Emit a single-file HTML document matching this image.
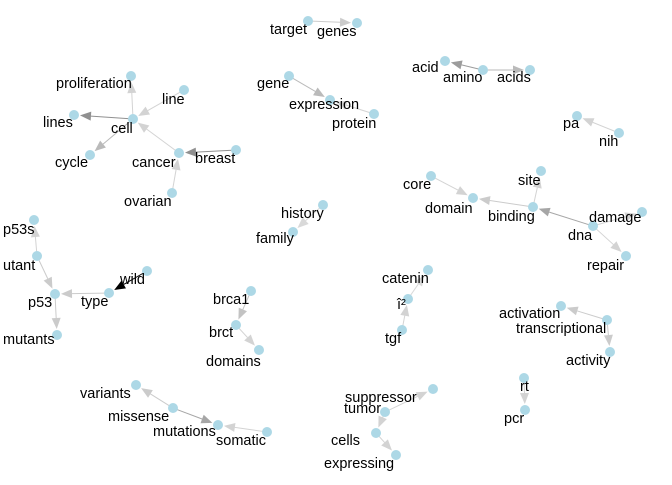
<!DOCTYPE html>
<html><head><meta charset="utf-8"><style>
body{margin:0;background:#fff}
svg text{font-family:"Liberation Sans",Arial,sans-serif;font-size:14.5px;fill:#000}
</style></head><body>
<svg id="g" width="672" height="480"></svg>
<script>
const nodeNames=["target","genes","acid","amino","acids","gene","expression","protein","pa","nih","proliferation","line","lines","cell","cycle","cancer","breast","ovarian","history","family","core","domain","binding","site","dna","damage","repair","p53s","mutant","p53","mutants","type","wild","brca1","brct","domains","catenin","β","tgf","activation","transcriptional","activity","rt","pcr","variants","missense","mutations","somatic","suppressor","tumor","cells","expressing"];
const labelText={"mutant":"utant","β":"î²"};
const nodeX=[308,357,445,483,530,289,330,374,577,619,131,184,74,133,90,179,236,172,323,293,431,473,533,541,593,642,626,34,37,55,57,109,147,251,236,259,428,408,402,561,607,610,524,525,136,173,218,267,433,385,376,396];
const nodeY=[21,23,61,70,70,76,100,114,116,133,76,90,115,119,155,153,150,193,205,232,176,198,207,171,226,212,256,220,256,294,335,293,271,291,325,350,270,299,330,306,320,352,378,410,385,408,425,432,389,412,433,455];
const labelX=[270,317,412,443,497,257,289,332,563,599,56,162,43,111,55,132,195,124,281,256,403,425,488,518,568,589,587,3,3,28,3,81,120,213,209,206,382,397,385,499,516,566,520,504,80,108,153,216,345,344,331,324];
const labelY=[34,36,72,82,82,88,109,128,128,146,88,104,127,133,167,167,163,206,218,243,189,213,221,185,240,222,270,234,270,307,344,306,284,304,337,366,283,309,343,318,333,365,391,423,398,421,436,445,402,413,445,468];
const edgeFrom=["target","amino","amino","gene","protein","nih","cell","line","cell","cell","cancer","breast","ovarian","history","core","binding","binding","dna","dna","dna","mutant","mutant","p53","type","wild","brca1","brct","tgf","β","transcriptional","transcriptional","rt","missense","missense","somatic","tumor","tumor","cells"];
const edgeTo=["genes","acid","acids","expression","expression","pa","proliferation","cell","lines","cycle","cell","cancer","cancer","family","domain","domain","site","binding","damage","repair","p53s","p53","mutants","p53","type","brct","domains","β","catenin","activation","activity","pcr","variants","mutations","mutations","suppressor","cells","expressing"];
const edgeWeight=[0.2,0.45,0.3,0.3,0.15,0.15,0.15,0.15,0.5,0.3,0.15,0.5,0.15,0.1,0.15,0.2,0.15,0.4,0.15,0.15,0.15,0.2,0.2,0.2,1,0.25,0.15,0.15,0.1,0.2,0.2,0.15,0.2,0.4,0.15,0.15,0.15,0.15];
const NS="http://www.w3.org/2000/svg",svg=document.getElementById('g');
const idx=n=>nodeNames.indexOf(n);
const px=i=>nodeX[i],py=i=>nodeY[i];
function mk(t,a){const e=document.createElementNS(NS,t);for(const k in a)e.setAttribute(k,a[k]);svg.appendChild(e);return e;}
edgeFrom.forEach((f,k)=>{
 const a=idx(f),b=idx(edgeTo[k]);
 const x1=px(a),y1=py(a),x2=px(b),y2=py(b);
 const dx=x2-x1,dy=y2-y1,L=Math.hypot(dx,dy),ux=dx/L,uy=dy/L;
 const ex=x2-ux*6,ey=y2-uy*6,bx=ex-ux*11,by=ey-uy*11;
 const w=edgeWeight[k],g=Math.round(170-170*w),col=`rgb(${g},${g},${g})`,op=0.3+0.7*w;
 const l=mk('line',{x1:x1+ux*4,y1:y1+uy*4,x2:bx,y2:by,stroke:col,'stroke-opacity':op,'stroke-width':1});
 
 
 const p=mk('polygon',{points:`${ex},${ey} ${bx-uy*4.5},${by+ux*4.5} ${bx+uy*4.5},${by-ux*4.5}`,fill:col,'fill-opacity':op});
 
 
});
nodeNames.forEach((n,i)=>{
 const c=mk('circle',{cx:px(i),cy:py(i),r:5,fill:'#add8e6'});
 
 
});
nodeNames.forEach((n,i)=>{
 const t=mk('text',{x:labelX[i],y:labelY[i]});
 t.textContent=labelText[n]||n;
 
 
});
</script>
</body></html>
